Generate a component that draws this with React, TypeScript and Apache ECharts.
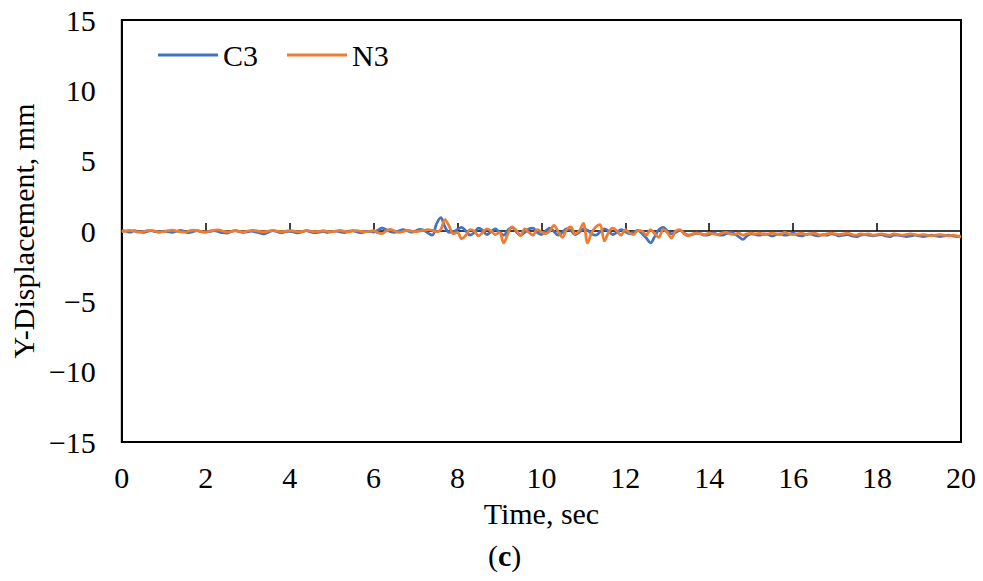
import React, { useEffect, useRef } from "react";
import * as echarts from "echarts";

// time step 0.1 s, 0 .. 20 s
const timeStep = 0.1;

const c3Values = [
  0.05, -0.02, -0.08, 0.02, -0.05, -0.1, -0.03, 0.03, -0.05, -0.08, 0.0,
  -0.06, -0.1, -0.02, 0.04, -0.05, -0.12, -0.04, 0.02, -0.06, -0.08,
  -0.03, 0.02, -0.05, -0.12, -0.15, -0.05, 0.03, -0.04, -0.1, -0.06,
  0.0, -0.08, -0.15, -0.2, -0.08, 0.02, -0.05, -0.12, -0.05, -0.02,
  -0.08, -0.14, -0.05, 0.02, -0.06, -0.12, -0.08, -0.03, -0.1, -0.06,
  0.0, -0.07, -0.12, -0.04, 0.03, -0.06, -0.12, -0.05, -0.02, -0.08,
  0.05, 0.2, 0.1, -0.05, -0.1, 0.0, 0.1, 0.02, -0.08, 0.0,
  0.12, 0.05, -0.15, -0.3, 0.5, 0.95, 0.3, -0.1, -0.05, 0.1,
  0.25, 0.0, -0.3, -0.1, 0.2, 0.05, -0.25, -0.05, 0.15, -0.1,
  -0.3, 0.05, 0.25, -0.05, -0.3, -0.1, 0.15, 0.2, -0.1, -0.25,
  0.0, 0.2, -0.05, -0.3, -0.1, 0.15, 0.05, -0.25, -0.1, 0.15,
  0.05, -0.2, -0.3, -0.05, 0.15, 0.0, -0.25, -0.1, 0.1, -0.05,
  -0.2, -0.1, 0.05, -0.2, -0.5, -0.85, -0.4, 0.1, 0.25, 0.0,
  -0.2, -0.1, 0.05, -0.15, -0.3, -0.25, -0.15, -0.2, -0.3, -0.25,
  -0.15, -0.25, -0.3, -0.2, -0.1, -0.2, -0.4, -0.6, -0.35, -0.2,
  -0.25, -0.3, -0.2, -0.25, -0.35, -0.25, -0.2, -0.3, -0.25, -0.15,
  -0.3, -0.35, -0.25, -0.2, -0.3, -0.35, -0.25, -0.3, -0.2, -0.25,
  -0.35, -0.3, -0.25, -0.35, -0.4, -0.3, -0.25, -0.3, -0.35, -0.3,
  -0.25, -0.35, -0.4, -0.3, -0.3, -0.35, -0.4, -0.35, -0.3, -0.35,
  -0.4, -0.35, -0.3, -0.35, -0.4, -0.35, -0.3, -0.35, -0.4, -0.35,
];

const n3Values = [
  -0.05, 0.0, 0.05, -0.02, -0.08, -0.05, 0.02, 0.05, -0.03, -0.08, -0.04,
  0.02, 0.06, 0.0, -0.06, -0.08, 0.0, 0.06, 0.02, -0.05, -0.06,
  0.0, 0.05, 0.08, 0.0, -0.06, -0.04, 0.02, -0.02, -0.06, 0.0,
  0.05, 0.02, -0.04, -0.06, 0.0, 0.04, 0.0, -0.05, -0.02, 0.03,
  0.0, -0.05, -0.03, 0.02, 0.0, -0.05, -0.02, 0.02, -0.03, -0.05,
  0.0, 0.04, -0.02, -0.06, 0.0, 0.03, -0.03, -0.06, -0.02, 0.02,
  -0.12, -0.18, 0.0, 0.12, 0.0, -0.1, -0.04, 0.05, 0.0, -0.05,
  0.0, 0.05, 0.1, 0.05, -0.05, 0.1, 0.8, 0.35, -0.2, -0.1,
  -0.55, -0.3, 0.1, 0.0, -0.35, -0.1, 0.15, 0.0, -0.25, -0.1,
  -0.85, -0.2, 0.3, 0.05, -0.35, 0.15, -0.1, -0.3, 0.1, -0.05,
  -0.2, 0.0, 0.4, -0.05, -0.45, 0.1, 0.3, -0.2, 0.0, 0.55,
  -0.85, -0.1, 0.3, 0.45, -0.7, -0.1, 0.2, 0.0, -0.3, 0.1,
  -0.15, -0.25, 0.05, 0.0, -0.3, 0.1, -0.2, -0.45, 0.1, -0.1,
  -0.5, 0.0, 0.1, -0.2, -0.35, -0.2, -0.15, -0.2, -0.25, -0.15,
  -0.2, -0.25, -0.15, -0.1, -0.2, -0.25, -0.15, -0.3, -0.2, -0.15,
  -0.2, -0.15, -0.25, -0.2, -0.15, -0.2, -0.25, -0.1, -0.2, -0.25,
  -0.2, -0.15, -0.25, -0.2, -0.15, -0.25, -0.3, -0.2, -0.15, -0.2,
  -0.25, -0.2, -0.15, -0.25, -0.3, -0.2, -0.25, -0.2, -0.3, -0.25,
  -0.2, -0.25, -0.3, -0.2, -0.25, -0.3, -0.25, -0.2, -0.25, -0.3,
  -0.25, -0.3, -0.35, -0.3, -0.25, -0.3, -0.35, -0.3, -0.35, -0.45,
];

const seriesNames = ["C3", "N3"];
const seriesColors = ["#4472C4", "#ED7D31"];
const xTitle = "Time, sec";
const yTitle = "Y-Displacement, mm";
const caption = "c";

const FONT = "Liberation Serif, Times New Roman, serif";
const FS = 30;

function toPairs(vals: number[]) {
  return vals.map((v, i) => [Math.round(i * timeStep * 10) / 10, v]);
}

export default function App() {
  const ref = useRef<HTMLDivElement>(null);
  useEffect(() => {
    if (!ref.current) return;
    const chart = echarts.init(ref.current, null, { renderer: "svg" });
    const labelStyle = { fontFamily: FONT, fontSize: FS, color: "#000" };
    chart.setOption({
      animation: false,
      backgroundColor: "#fff",
      textStyle: { fontFamily: FONT },
      grid: {
        left: 118,
        top: 20,
        right: 22,
        bottom: 139,
        show: true,
        borderColor: "#000",
        borderWidth: 2,
        containLabel: false,
      },
      legend: {
        left: 153,
        top: 35,
        itemWidth: 60,
        itemHeight: 3,
        itemGap: 29,
        icon: "rect",
        textStyle: { ...labelStyle },
        data: seriesNames.map((n) => ({ name: n })),
      },
      xAxis: [
        {
          type: "value",
          min: 0,
          max: 20,
          interval: 2,
          position: "bottom",
          axisLine: { show: true, onZero: false, lineStyle: { color: "#000", width: 2 } },
          axisTick: { show: false },
          splitLine: { show: false },
          axisLabel: { ...labelStyle, margin: 20 },
          name: xTitle,
          nameLocation: "middle",
          nameGap: 56,
          nameTextStyle: labelStyle,
        },
        {
          type: "value",
          min: 0,
          max: 20,
          interval: 2,
          position: "bottom",
          axisLine: { show: true, onZero: true, lineStyle: { color: "#000", width: 1.5 } },
          axisTick: { show: true, inside: true, length: 8, lineStyle: { color: "#000", width: 1.5 } },
          axisLabel: { show: false },
          splitLine: { show: false },
        },
      ],
      yAxis: {
        type: "value",
        min: -15,
        max: 15,
        interval: 5,
        axisLine: { show: true, lineStyle: { color: "#000", width: 2 } },
        axisTick: { show: false },
        splitLine: { show: false },
        axisLabel: {
          ...labelStyle,
          margin: 26,
          formatter: (v: number) => String(v).replace("-", "\u2212"),
        },
        name: yTitle,
        nameLocation: "middle",
        nameGap: 70,
        nameTextStyle: labelStyle,
      },
      series: seriesNames.map((name, k) => ({
        name,
        type: "line",
        xAxisIndex: 0,
        data: toPairs(k === 0 ? c3Values : n3Values),
        smooth: 0.35,
        showSymbol: false,
        symbol: "none",
        lineStyle: { color: seriesColors[k], width: 2.75 },
        itemStyle: { color: seriesColors[k] },
      })),
      graphic: [
        {
          type: "text",
          left: 488,
          top: 540,
          style: {
            text: "{a|(}{b|" + caption + "}{a|)}",
            rich: {
              a: { fontFamily: FONT, fontSize: FS, fill: "#000" },
              b: { fontFamily: FONT, fontSize: FS, fontWeight: "bold", fill: "#000" },
            },
          },
        },
      ],
    });
    return () => chart.dispose();
  }, []);
  return (
    <div
      ref={ref}
      style={{ position: "fixed", left: 0, top: 0, width: 983, height: 581 }}
    />
  );
}
